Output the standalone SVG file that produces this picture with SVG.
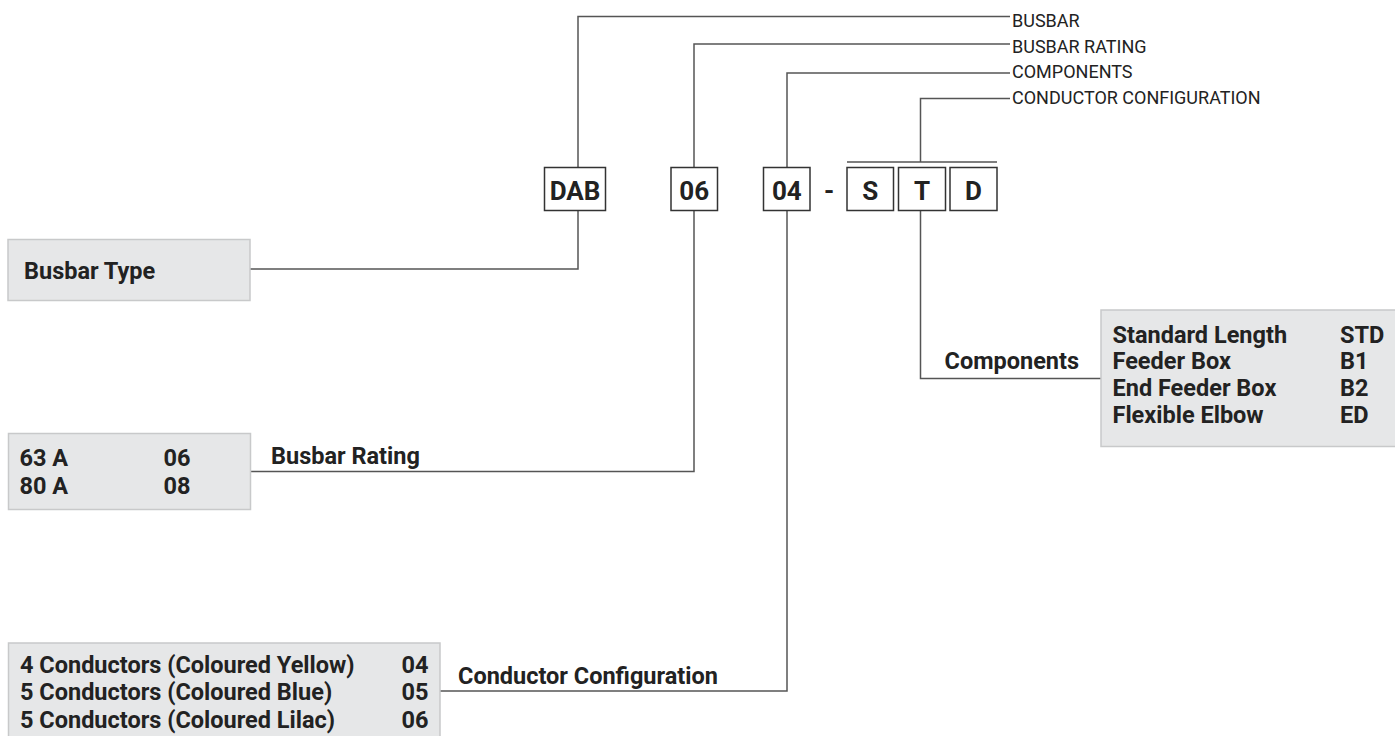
<svg xmlns="http://www.w3.org/2000/svg" width="1395" height="736" viewBox="0 0 1395 736">
<style>
  .conn { fill: none; stroke: #555; stroke-width: 1.5; }
  .code { fill: #fff; stroke: #333; stroke-width: 1.5; }
  .codetxt { font-family: Roboto, "Liberation Sans", sans-serif; font-weight: bold; font-size: 26px; fill: #222; text-anchor: middle; }
  .panel { fill: #e6e7e8; stroke: #c8c9ca; stroke-width: 1.5; }
  .lbl { font-family: Roboto, "Liberation Sans", sans-serif; font-weight: bold; font-size: 23.5px; fill: #222; }
  .top { font-family: Roboto, "Liberation Sans", sans-serif; font-size: 18px; fill: #222; }
</style>
<rect width="1395" height="736" fill="#fff"/>

<g id="connectors">
  <polyline class="conn" points="578,167 578,16.5 1010,16.5"/>
  <polyline class="conn" points="694,167 694,44 1010,44"/>
  <polyline class="conn" points="787,167 787,73 1010,73"/>
  <polyline class="conn" points="920.5,162 920.5,98.5 1010,98.5"/>
  <line class="conn" x1="847" y1="162" x2="997" y2="162"/>
  <polyline class="conn" points="578,211 578,269 250,269"/>
  <polyline class="conn" points="694,211 694,471.5 251,471.5"/>
  <polyline class="conn" points="787,211 787,691 440,691"/>
  <polyline class="conn" points="920.5,211 920.5,378.5 1101,378.5"/>
</g>

<g id="top-labels">
  <text class="top" x="1012" y="27">BUSBAR</text>
  <text class="top" x="1012" y="52.5">BUSBAR RATING</text>
  <text class="top" x="1012" y="78">COMPONENTS</text>
  <text class="top" x="1012" y="103.5">CONDUCTOR CONFIGURATION</text>
</g>

<g id="code-dab">
  <rect class="code" x="544.5" y="167.5" width="61" height="43"/>
  <text class="codetxt" x="575" y="199.5">DAB</text>
</g>
<g id="code-06">
  <rect class="code" x="671" y="167.5" width="46.5" height="43"/>
  <text class="codetxt" x="694.2" y="199.5">06</text>
</g>
<g id="code-04">
  <rect class="code" x="763.5" y="167.5" width="46.5" height="43"/>
  <text class="codetxt" x="786.8" y="199.5">04</text>
</g>
<g id="dash">
  <text class="codetxt" x="829" y="199.5" font-weight="normal">-</text>
</g>
<g id="code-s">
  <rect class="code" x="847" y="167.5" width="46.5" height="43"/>
  <text class="codetxt" x="870.2" y="199.5">S</text>
</g>
<g id="code-t">
  <rect class="code" x="898.5" y="167.5" width="47" height="43"/>
  <text class="codetxt" x="922" y="199.5">T</text>
</g>
<g id="code-d">
  <rect class="code" x="950" y="167.5" width="47" height="43"/>
  <text class="codetxt" x="973.5" y="199.5">D</text>
</g>

<g id="busbar-type">
  <rect class="panel" x="8" y="239.5" width="242" height="61"/>
  <text class="lbl" x="24" y="278.5">Busbar Type</text>
</g>

<g id="busbar-rating">
  <rect class="panel" x="8.5" y="433.5" width="242" height="76"/>
  <text class="lbl" x="19.5" y="465.5">63 A</text>
  <text class="lbl" x="163.5" y="465.5">06</text>
  <text class="lbl" x="19.5" y="494">80 A</text>
  <text class="lbl" x="163.5" y="494">08</text>
  <text class="lbl" x="271" y="463.5">Busbar Rating</text>
</g>

<g id="conductor-configuration">
  <rect class="panel" x="8.5" y="643" width="431.5" height="110"/>
  <text class="lbl" x="20" y="672.5">4 Conductors (Coloured Yellow)</text>
  <text class="lbl" x="401.5" y="672.5">04</text>
  <text class="lbl" x="20" y="700">5 Conductors (Coloured Blue)</text>
  <text class="lbl" x="401.5" y="700">05</text>
  <text class="lbl" x="20" y="727.5">5 Conductors (Coloured Lilac)</text>
  <text class="lbl" x="401.5" y="727.5">06</text>
  <text class="lbl" x="458" y="683.5">Conductor Configuration</text>
</g>

<g id="components">
  <rect class="panel" x="1101" y="310" width="310" height="136.5"/>
  <text class="lbl" x="1112.5" y="342.5">Standard Length</text>
  <text class="lbl" x="1340" y="342.5">STD</text>
  <text class="lbl" x="1112.5" y="369">Feeder Box</text>
  <text class="lbl" x="1340" y="369">B1</text>
  <text class="lbl" x="1112.5" y="395.5">End Feeder Box</text>
  <text class="lbl" x="1340" y="395.5">B2</text>
  <text class="lbl" x="1112.5" y="422.5">Flexible Elbow</text>
  <text class="lbl" x="1340" y="422.5">ED</text>
  <text class="lbl" x="944.5" y="369">Components</text>
</g>
</svg>
